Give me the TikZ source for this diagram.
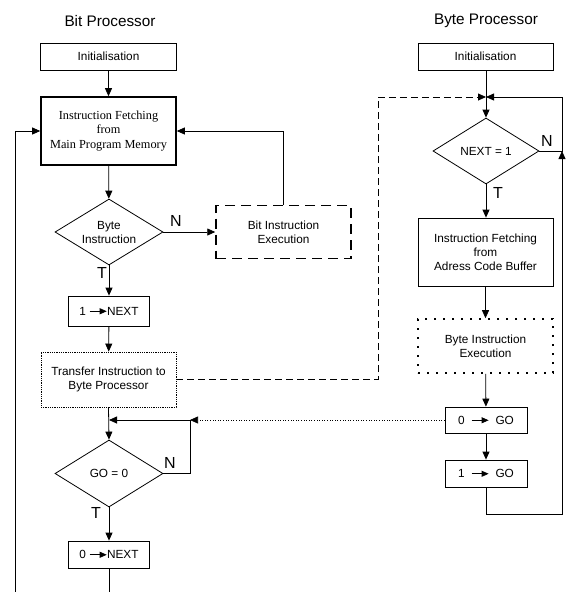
\documentclass[tikz,border=0pt]{standalone}
\usepackage{fontspec}
\setmainfont{Liberation Sans}
\newfontfamily\timesfont{Liberation Serif}
\usetikzlibrary{shapes.geometric,arrows.meta}

\tikzset{
  flow/.style={draw,line width=0.8pt,-{Triangle[length=8pt,width=7pt]}},
  plainline/.style={draw,line width=0.8pt},
  stepbox/.style={draw,line width=0.8pt,rectangle,align=center,inner sep=0pt,font=\fontsize{11.8}{14}\selectfont},
  thickbox/.style={stepbox,line width=1.6pt,font=\timesfont\fontsize{12.3}{14.5}\selectfont},
  dashbox/.style={stepbox,line width=1.5pt,dash pattern=on 10pt off 6pt},
  dotbox/.style={stepbox,densely dotted},
  loosedotbox/.style={stepbox,line width=1.6pt,dash pattern=on 1.6pt off 7.4pt},
  decision/.style={draw,line width=0.8pt,diamond,aspect=1.64,inner sep=0pt,align=center,font=\fontsize{11.8}{14}\selectfont},
  lbl/.style={font=\fontsize{16}{16}\selectfont,inner sep=0pt},
  title/.style={font=\fontsize{15.3}{16}\selectfont,inner sep=0pt}
}
\newcommand{\setto}{\tikz[baseline=0pt]\draw[line width=0.8pt,-{Triangle[length=7pt,width=6pt]}] (0pt,3.8pt) -- (17pt,3.8pt);}

\begin{document}
\begin{tikzpicture}[x=1pt,y=-1pt]
  \useasboundingbox (0,0) rectangle (566,592);
  % bit processor
  \node[title] (bittitle) at (110,21) {Bit Processor};
  \node[stepbox,minimum width=136pt,minimum height=27pt] (init1) at (108.5,56.5) {Initialisation};
  \node[thickbox,minimum width=135pt,minimum height=68pt] (fetch1) at (108.5,131) {Instruction Fetching\\from\\Main Program Memory};
  \node[decision,minimum width=108pt,minimum height=66pt] (byte) at (109,232) {Byte\\Instruction};
  \node[dashbox,minimum width=135pt,minimum height=53pt] (bitexec) at (283.5,232) {Bit Instruction\\Execution};
  \node[stepbox,minimum width=81pt,minimum height=30pt] (next1) at (109,311) {1 \setto NEXT};
  \node[dotbox,minimum width=135pt,minimum height=55pt] (transfer) at (108.5,379.5) {Transfer Instruction to\\Byte Processor};
  \coordinate (jgo) at (109,420);
  \coordinate (cgo) at (190,420);
  \node[decision,minimum width=108pt,minimum height=67pt] (go) at (109,473.5) {GO = 0};
  \node[stepbox,minimum width=81pt,minimum height=27pt] (next0) at (109,554.5) {0 \setto NEXT};
  \coordinate (bot) at (109,592);
  \coordinate (botl) at (15,592);
  % byte processor
  \node[title] (bytetitle) at (486,21) {Byte Processor};
  \node[stepbox,minimum width=135pt,minimum height=27pt] (init2) at (485.5,56.5) {Initialisation};
  \coordinate (jnext) at (486,97);
  \node[decision,minimum width=106pt,minimum height=66pt] (nxt) at (486,151) {NEXT = 1};
  \node[stepbox,minimum width=135pt,minimum height=68pt] (fetch2) at (485.5,252) {Instruction Fetching\\from\\Adress Code Buffer};
  \node[loosedotbox,minimum width=135pt,minimum height=54pt] (byteexec) at (485.5,346) {Byte Instruction\\Execution};
  \node[stepbox,minimum width=82pt,minimum height=26pt] (go0) at (486,420) {0 \ \setto\ \ GO};
  \node[stepbox,minimum width=82pt,minimum height=27pt] (go1) at (486,473.5) {1 \ \setto\ \ GO};
  \coordinate (rb) at (562,514);
  \coordinate (rn) at (562,151);
  \coordinate (tl) at (378,97);
  % labels
  \node[lbl] at (176,221) {N};
  \node[lbl] at (102,273) {T};
  \node[lbl] at (547,141) {N};
  \node[lbl] at (498,193) {T};
  \node[lbl] at (170,463) {N};
  \node[lbl] at (96,513) {T};
  % connectors
  \path[flow] (init1) -- (fetch1);
  \path[flow] (fetch1) -- (byte);
  \path[flow] (byte.east) -- (bitexec.west);
  \path[flow] (bitexec.north) |- (fetch1.east);
  \path[flow] (byte.south) -- (next1.north);
  \path[flow] (next1) -- (transfer);
  \path[flow] (transfer.south) -- (go.north);
  \path[flow] (go.east) -| (cgo) -- (jgo);
  \path[flow,line width=0.6pt,dotted] (go0.west) -- (cgo);
  \path[flow] (go.south) -- (next0.north);
  \path[plainline] (next0.south) -- (bot);
  \path[flow] (botl) |- (fetch1.west);
  \path[flow,dash pattern=on 7pt off 4pt] (transfer.east) -| (tl) -- (jnext);
  \path[plainline] (init2.south -| jnext) -- (jnext);
  \path[flow] (jnext) -- (nxt.north);
  \path[flow] (nxt.south) -- (fetch2.north -| nxt.south);
  \path[flow] (fetch2.south -| byteexec.north) -- (byteexec.north);
  \path[flow] (byteexec) -- (go0);
  \path[flow] (go0) -- (go1);
  \path[flow] (go1.south) |- (rb) -- (rn);
  \path[flow] (nxt.east) -- (rn) |- (jnext);
\end{tikzpicture}
\end{document}
